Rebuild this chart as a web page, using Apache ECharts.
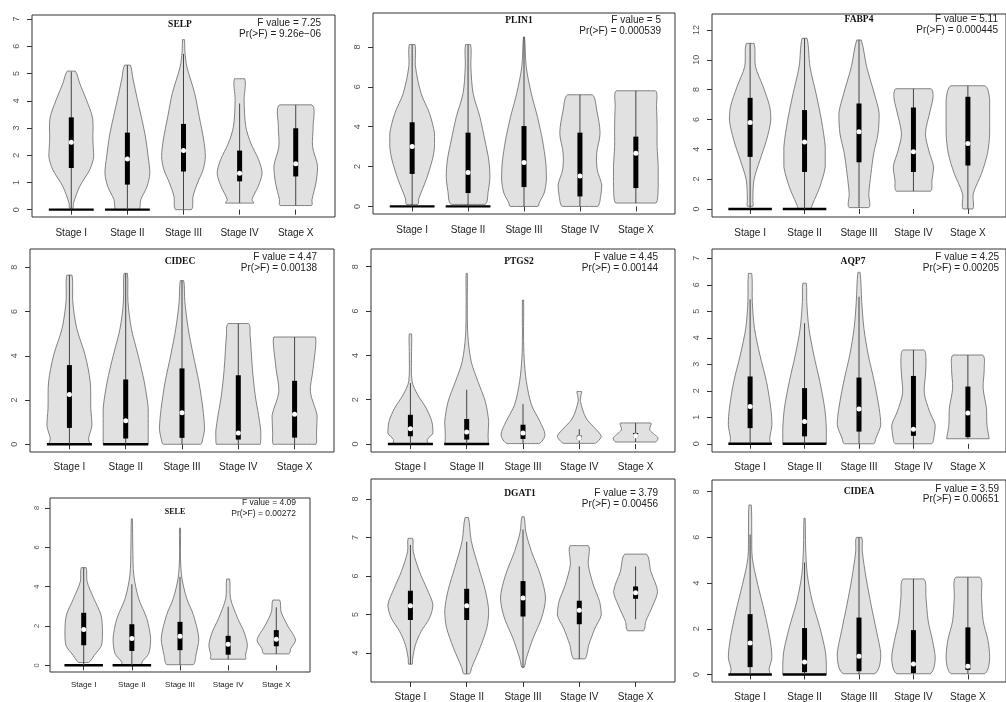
<!DOCTYPE html>
<html>
<head>
<meta charset="utf-8">
<script src="https://cdn.jsdelivr.net/npm/echarts@6/dist/echarts.min.js"></script>
<style>
  html, body { margin: 0; padding: 0; background: #fff; }
  #main { width: 1006px; height: 702px; }
</style>
</head>
<body>
<div id="main"></div>
<script>
// ---- data ---------------------------------------------------------------
const stages = ['Stage I', 'Stage II', 'Stage III', 'Stage IV', 'Stage X'];
const genes = ['SELP', 'PLIN1', 'FABP4', 'CIDEC', 'PTGS2', 'AQP7', 'SELE', 'DGAT1', 'CIDEA'];
const fValues = ['7.25', '5', '5.11', '4.47', '4.45', '4.25', '4.09', '3.79', '3.59'];
const pValues = ['9.26e\u221206', '0.000539', '0.000445', '0.00138', '0.00144', '0.00205', '0.00272', '0.00456', '0.00651'];

// y-axis tick labels per panel
const ticksSELP  = [0, 1, 2, 3, 4, 5, 6, 7];
const ticksPLIN1 = [0, 2, 4, 6, 8];
const ticksFABP4 = [0, 2, 4, 6, 8, 10, 12];
const ticksCIDEC = [0, 2, 4, 6, 8];
const ticksPTGS2 = [0, 2, 4, 6, 8];
const ticksAQP7  = [0, 1, 2, 3, 4, 5, 6, 7];
const ticksSELE  = [0, 2, 4, 6, 8];
const ticksDGAT1 = [4, 5, 6, 7, 8];
const ticksCIDEA = [0, 2, 4, 6, 8];

// box statistics per stage: [lower whisker, Q1, median, Q3, upper whisker]
const boxSELP  = [[0, 1.53, 2.48, 3.39, 5.07], [0, 0.92, 1.86, 2.83, 5.31], [0, 1.40, 2.17, 3.15, 5.72], [0.24, 1.04, 1.34, 2.17, 3.9], [0.15, 1.22, 1.69, 2.99, 3.85]];
const boxPLIN1 = [[0, 1.63, 3.0, 4.22, 8.1], [0, 0.67, 1.7, 3.7, 8.1], [0, 0.97, 2.2, 4.03, 8.5], [0, 0.5, 1.53, 3.7, 5.6], [0.17, 0.92, 2.67, 3.5, 5.8]];
const boxFABP4 = [[0, 3.49, 5.8, 7.45, 11.1], [0, 2.48, 4.48, 6.63, 11.44], [0.09, 3.13, 5.17, 7.07, 11.33], [1.19, 2.48, 3.83, 6.8, 8.06], [0, 2.91, 4.39, 7.52, 8.26]];
const boxCIDEC = [[0, 0.74, 2.25, 3.58, 7.65], [0, 0.26, 1.06, 2.93, 7.73], [0, 0.29, 1.42, 3.43, 7.4], [0, 0.21, 0.51, 3.12, 5.46], [0, 0.3, 1.36, 2.87, 4.85]];
const boxPTGS2 = [[0, 0.35, 0.69, 1.32, 2.75], [0, 0.2, 0.54, 1.13, 2.45], [0, 0.23, 0.5, 0.87, 1.8], [0.03, 0.2, 0.27, 0.38, 0.67], [0.09, 0.3, 0.37, 0.5, 0.95]];
const boxAQP7  = [[0, 0.59, 1.41, 2.54, 5.45], [0, 0.28, 0.84, 2.1, 4.55], [0, 0.46, 1.31, 2.5, 5.55], [0, 0.3, 0.55, 2.56, 3.54], [0.19, 0.25, 1.16, 2.16, 3.35]];
const boxSELE  = [[0, 1.02, 1.82, 2.67, 4.97], [0, 0.73, 1.36, 2.09, 4.12], [0.03, 0.77, 1.48, 2.21, 4.5], [0.31, 0.54, 1.07, 1.5, 2.98], [0.58, 0.97, 1.33, 1.79, 2.95]];
const boxDGAT1 = [[3.71, 4.86, 5.23, 5.62, 6.81], [3.46, 4.86, 5.23, 5.67, 6.89], [3.63, 4.95, 5.43, 5.87, 7.21], [3.85, 4.75, 5.11, 5.36, 6.25], [4.88, 5.41, 5.57, 5.73, 6.25]];
const boxCIDEA = [[0, 0.32, 1.38, 2.64, 6.12], [0, 0.1, 0.54, 2.03, 4.9], [0, 0.14, 0.8, 2.49, 6.0], [0.03, 0.06, 0.46, 1.94, 4.18], [0.03, 0.2, 0.36, 2.06, 4.26]];

// violin outlines per stage, bottom to top: [expression value, half width in stage units]
const shapeSELP = [
  [[0.05, 0.03], [0.24, 0.04], [0.85, 0.15], [1.47, 0.33], [1.95, 0.40], [2.56, 0.385], [3.36, 0.38], [4.03, 0.27], [4.64, 0.15], [5.09, 0.07]],
  [[0, 0.2], [0.37, 0.24], [0.85, 0.35], [1.34, 0.40], [1.95, 0.37], [2.81, 0.31], [4.03, 0.18], [4.8, 0.1], [5.31, 0.05]],
  [[0, 0.14], [0.49, 0.17], [0.98, 0.25], [1.47, 0.35], [1.95, 0.39], [2.56, 0.36], [3.42, 0.28], [4.27, 0.2], [5.25, 0.06], [5.8, 0.025], [6.25, 0.015]],
  [[0.24, 0.25], [0.37, 0.22], [0.85, 0.33], [1.34, 0.40], [1.83, 0.34], [2.44, 0.2], [3.05, 0.11], [4.03, 0.08], [4.81, 0.09]],
  [[0.15, 0.28], [0.37, 0.29], [0.98, 0.36], [1.59, 0.39], [2.32, 0.3], [3.05, 0.31], [3.85, 0.29]]
];
const shapePLIN1 = [
  [[0.1, 0.1], [0.4, 0.12], [1.33, 0.25], [2.33, 0.36], [3.0, 0.40], [3.67, 0.40], [4.67, 0.31], [5.67, 0.16], [7.0, 0.06], [8.12, 0.05]],
  [[0.1, 0.3], [0.75, 0.36], [1.5, 0.39], [2.33, 0.37], [3.33, 0.3], [4.5, 0.21], [5.67, 0.09], [7.0, 0.05], [8.12, 0.045]],
  [[0, 0.25], [0.17, 0.27], [0.67, 0.36], [1.33, 0.40], [2.17, 0.39], [3.33, 0.33], [4.5, 0.24], [5.67, 0.13], [7.0, 0.04], [8.5, 0.01]],
  [[0, 0.31], [0.5, 0.37], [1.08, 0.39], [1.83, 0.31], [2.67, 0.3], [3.67, 0.36], [4.83, 0.3], [5.6, 0.22]],
  [[0.17, 0.36], [1.0, 0.4], [2.0, 0.4], [3.0, 0.38], [4.0, 0.38], [5.0, 0.37], [5.8, 0.35]]
];
const shapeFABP4 = [
  [[0.18, 0.05], [0.58, 0.05], [1.93, 0.07], [3.27, 0.18], [4.6, 0.3], [5.95, 0.38], [6.85, 0.36], [8.2, 0.24], [9.54, 0.1], [11.1, 0.07]],
  [[0, 0.1], [0.36, 0.15], [1.48, 0.28], [2.82, 0.38], [4.16, 0.38], [5.95, 0.31], [7.75, 0.21], [9.54, 0.1], [11.44, 0.045]],
  [[0.09, 0.18], [1.03, 0.18], [2.37, 0.22], [3.72, 0.27], [5.06, 0.35], [6.4, 0.37], [7.75, 0.28], [9.54, 0.14], [11.33, 0.04]],
  [[1.19, 0.31], [1.93, 0.34], [2.82, 0.37], [3.94, 0.28], [5.06, 0.22], [6.63, 0.31], [7.52, 0.36], [8.06, 0.32]],
  [[0, 0.09], [1.03, 0.1], [2.37, 0.25], [3.72, 0.36], [5.06, 0.4], [7.3, 0.4], [8.26, 0.31]]
];
const shapeCIDEC = [
  [[0, 0.35], [0.26, 0.34], [0.86, 0.4], [1.62, 0.38], [2.82, 0.37], [4.03, 0.28], [5.24, 0.13], [6.45, 0.06], [7.65, 0.045]],
  [[0, 0.4], [0.71, 0.4], [1.62, 0.4], [2.82, 0.33], [4.03, 0.22], [5.24, 0.1], [6.45, 0.04], [7.73, 0.03]],
  [[0, 0.33], [0.26, 0.37], [0.71, 0.4], [1.62, 0.37], [2.82, 0.3], [4.03, 0.2], [5.24, 0.11], [6.45, 0.05], [7.4, 0.03]],
  [[0, 0.39], [0.56, 0.4], [1.31, 0.36], [2.22, 0.3], [3.43, 0.25], [4.94, 0.21], [5.46, 0.18]],
  [[0, 0.38], [0.56, 0.39], [1.31, 0.4], [2.37, 0.28], [3.43, 0.33], [4.85, 0.37]]
];
const shapePTGS2 = [
  [[0, 0.3], [0.2, 0.3], [0.5, 0.4], [1.02, 0.38], [1.62, 0.28], [2.22, 0.13], [2.82, 0.03], [4.17, 0.02], [4.97, 0.02]],
  [[0, 0.38], [0.42, 0.38], [1.02, 0.39], [1.92, 0.33], [2.82, 0.2], [3.72, 0.08], [4.92, 0.02], [6.43, 0.01], [7.7, 0.01]],
  [[0.02, 0.28], [0.42, 0.39], [1.02, 0.3], [1.77, 0.15], [2.82, 0.06], [3.87, 0.02], [4.92, 0.01], [6.5, 0.01]],
  [[0.03, 0.27], [0.12, 0.33], [0.35, 0.39], [0.65, 0.3], [1.17, 0.12], [1.92, 0.02], [2.2, 0.03], [2.37, 0.04]],
  [[0.09, 0.35], [0.27, 0.4], [0.42, 0.34], [0.65, 0.25], [0.95, 0.27]]
];
const shapeAQP7 = [
  [[0, 0.36], [0.21, 0.36], [0.72, 0.4], [1.34, 0.38], [2.35, 0.3], [3.35, 0.18], [4.36, 0.08], [5.36, 0.04], [6.43, 0.03]],
  [[0, 0.4], [0.59, 0.4], [1.34, 0.37], [2.35, 0.28], [3.35, 0.17], [4.36, 0.08], [5.36, 0.04], [6.06, 0.03]],
  [[0, 0.27], [0.21, 0.31], [0.72, 0.4], [1.34, 0.37], [2.35, 0.28], [3.35, 0.17], [4.36, 0.09], [5.36, 0.05], [6.47, 0.02]],
  [[0, 0.33], [0.3, 0.38], [0.7, 0.4], [1.2, 0.3], [1.9, 0.2], [2.6, 0.22], [3.2, 0.23], [3.54, 0.19]],
  [[0.19, 0.39], [0.72, 0.35], [1.34, 0.34], [2.1, 0.28], [2.85, 0.3], [3.35, 0.27]]
];
const shapeSELE = [
  [[0.14, 0.1], [0.51, 0.22], [1.02, 0.37], [1.7, 0.39], [2.55, 0.36], [3.4, 0.21], [4.26, 0.07], [4.97, 0.05]],
  [[0, 0.2], [0.17, 0.21], [0.6, 0.35], [1.36, 0.39], [2.38, 0.31], [3.4, 0.14], [4.6, 0.04], [5.96, 0.02], [7.45, 0.01]],
  [[0.03, 0.27], [0.51, 0.33], [1.36, 0.39], [2.55, 0.28], [3.4, 0.14], [4.43, 0.04], [5.45, 0.01], [6.98, 0.01]],
  [[0.31, 0.36], [0.51, 0.36], [1.02, 0.4], [1.7, 0.33], [2.38, 0.2], [3.4, 0.05], [4.39, 0.03]],
  [[0.58, 0.26], [0.85, 0.3], [1.28, 0.4], [2.04, 0.23], [2.72, 0.1], [3.32, 0.07]]
];
const shapeDGAT1 = [
  [[3.71, 0.03], [3.87, 0.04], [4.22, 0.09], [4.56, 0.19], [4.91, 0.34], [5.25, 0.4], [5.68, 0.29], [6.12, 0.16], [6.64, 0.05], [6.98, 0.04]],
  [[3.46, 0.05], [3.63, 0.09], [4.15, 0.24], [4.67, 0.36], [5.1, 0.39], [5.63, 0.33], [6.23, 0.21], [6.92, 0.08], [7.52, 0.03]],
  [[3.63, 0.02], [3.87, 0.06], [4.39, 0.18], [4.91, 0.33], [5.43, 0.4], [6.03, 0.31], [6.64, 0.15], [7.15, 0.05], [7.54, 0.02]],
  [[3.85, 0.1], [4.22, 0.17], [4.65, 0.28], [4.99, 0.39], [5.34, 0.36], [5.77, 0.25], [6.29, 0.16], [6.79, 0.16]],
  [[4.58, 0.14], [4.82, 0.18], [5.25, 0.31], [5.6, 0.39], [6.12, 0.27], [6.57, 0.19]]
];
const shapeCIDEA = [
  [[0, 0.35], [0.25, 0.35], [0.75, 0.4], [1.62, 0.36], [2.78, 0.26], [3.94, 0.14], [5.1, 0.04], [6.26, 0.03], [7.42, 0.02]],
  [[0, 0.4], [0.46, 0.4], [1.04, 0.38], [2.06, 0.28], [3.22, 0.14], [4.38, 0.05], [5.54, 0.02], [6.84, 0.01]],
  [[0.03, 0.28], [0.32, 0.37], [0.9, 0.4], [1.91, 0.32], [3.07, 0.22], [4.23, 0.13], [5.39, 0.06], [6.0, 0.05]],
  [[0.03, 0.3], [0.25, 0.37], [0.75, 0.4], [1.48, 0.35], [2.35, 0.27], [3.36, 0.23], [4.18, 0.19]],
  [[0.03, 0.3], [0.25, 0.37], [0.75, 0.4], [1.48, 0.37], [2.35, 0.28], [3.36, 0.25], [4.26, 0.22]]
];

// stages with a pile of zero values (drawn as a bar at 0)
const zeroSELP  = [1, 1, 0, 0, 0];
const zeroPLIN1 = [1, 1, 0, 0, 0];
const zeroFABP4 = [1, 1, 0, 0, 0];
const zeroCIDEC = [1, 1, 0, 0, 0];
const zeroPTGS2 = [1, 1, 0, 0, 0];
const zeroAQP7  = [1, 1, 0, 0, 0];
const zeroSELE  = [1, 1, 0, 0, 0];
const zeroDGAT1 = [0, 0, 0, 0, 0];
const zeroCIDEA = [1, 1, 0, 0, 0];

const ticks  = [ticksSELP, ticksPLIN1, ticksFABP4, ticksCIDEC, ticksPTGS2, ticksAQP7, ticksSELE, ticksDGAT1, ticksCIDEA];
const boxes  = [boxSELP, boxPLIN1, boxFABP4, boxCIDEC, boxPTGS2, boxAQP7, boxSELE, boxDGAT1, boxCIDEA];
const shapes = [shapeSELP, shapePLIN1, shapeFABP4, shapeCIDEC, shapePTGS2, shapeAQP7, shapeSELE, shapeDGAT1, shapeCIDEA];
const zeros  = [zeroSELP, zeroPLIN1, zeroFABP4, zeroCIDEC, zeroPTGS2, zeroAQP7, zeroSELE, zeroDGAT1, zeroCIDEA];

// ---- layout -------------------------------------------------------------
// plot frames: left, top, width, height, y range
const frames = [
  { left: 32,  top: 15,  width: 303, height: 202, yMin: -0.27, yMax: 7.15 },
  { left: 373, top: 13,  width: 302, height: 201, yMin: -0.38, yMax: 9.7 },
  { left: 712, top: 14,  width: 306, height: 203, yMin: -0.54, yMax: 13.07 },
  { left: 30,  top: 249, width: 304, height: 203, yMin: -0.35, yMax: 8.83 },
  { left: 371, top: 249, width: 304, height: 203, yMin: -0.36, yMax: 8.8 },
  { left: 712, top: 249, width: 304, height: 203, yMin: -0.31, yMax: 7.35 },
  { left: 50,  top: 498, width: 260, height: 174, yMin: -0.34, yMax: 8.51 },
  { left: 371, top: 479, width: 304, height: 203, yMin: 3.25,  yMax: 8.52 },
  { left: 712, top: 480, width: 304, height: 203, yMin: -0.33, yMax: 8.51 }
];
// text anchors: gene name centre, right edge of the statistics, first and second line
const notes = [
  { tx: 180, ty: 25,  rx: 321, y1: 23,  y2: 34 },
  { tx: 519, ty: 21,  rx: 661, y1: 20,  y2: 31.5 },
  { tx: 859, ty: 20,  rx: 998, y1: 19,  y2: 30 },
  { tx: 180, ty: 262, rx: 317, y1: 257.5, y2: 268.5 },
  { tx: 519, ty: 262, rx: 658, y1: 257.5, y2: 268.5 },
  { tx: 853, ty: 262, rx: 999, y1: 257.5, y2: 268 },
  { tx: 175, ty: 511.5, rx: 296, y1: 503, y2: 514 },
  { tx: 520, ty: 494, rx: 658, y1: 493, y2: 504 },
  { tx: 859, ty: 491.5, rx: 999, y1: 489, y2: 499.5 }
];

const SANS = "'Liberation Sans', Arial, sans-serif";
const SERIF = "'Liberation Serif', 'Times New Roman', serif";

function violinRenderer(shapeSet, zeroSet) {
  return function (params, api) {
    const j = params.dataIndex;
    const pos = api.value(0);
    const lo = api.value(1), q1 = api.value(2), med = api.value(3), q3 = api.value(4), hi = api.value(5);
    const prof = shapeSet[j];
    const leftSide = prof.map(p => api.coord([pos - p[1], p[0]]));
    const rightSide = prof.slice().reverse().map(p => api.coord([pos + p[1], p[0]]));
    const pts = leftSide.concat(rightSide);
    // keep the smoothed outline inside the outline's own bounding box
    const bbox = [[Infinity, Infinity], [-Infinity, -Infinity]];
    pts.forEach(q => {
      bbox[0][0] = Math.min(bbox[0][0], q[0]); bbox[0][1] = Math.min(bbox[0][1], q[1]);
      bbox[1][0] = Math.max(bbox[1][0], q[0]); bbox[1][1] = Math.max(bbox[1][1], q[1]);
    });
    const children = [{
      type: 'polygon',
      shape: { points: pts, smooth: 0.3, smoothConstraint: bbox },
      style: { fill: '#e1e1e1', stroke: '#666', lineWidth: 0.8 }
    }];
    if (zeroSet[j]) {
      const a = api.coord([pos - 0.4, 0]), b = api.coord([pos + 0.4, 0]);
      children.push({ type: 'line', shape: { x1: a[0], y1: a[1], x2: b[0], y2: b[1] },
        style: { stroke: '#000', lineWidth: 2.4 } });
    }
    const pLo = api.coord([pos, lo]), pHi = api.coord([pos, hi]);
    children.push({ type: 'line', shape: { x1: pLo[0], y1: pLo[1], x2: pHi[0], y2: pHi[1] },
      style: { stroke: '#444', lineWidth: 1 } });
    const p1 = api.coord([pos, q1]), p3 = api.coord([pos, q3]);
    children.push({ type: 'rect', shape: { x: p1[0] - 2.5, y: p3[1], width: 5, height: p1[1] - p3[1] },
      style: { fill: '#000' } });
    const pm = api.coord([pos, med]);
    children.push({ type: 'circle', shape: { cx: pm[0], cy: pm[1], r: 2.5 }, style: { fill: '#fff' } });
    return { type: 'group', children: children };
  };
}

const grid = [], xAxis = [], yAxis = [], series = [], graphic = [];
frames.forEach((f, i) => {
  const small = i === 6;
  grid.push({ left: f.left, top: f.top, width: f.width, height: f.height, show: true,
    borderColor: '#333', borderWidth: 1, backgroundColor: 'transparent', containLabel: false });
  xAxis.push({
    type: 'value', gridIndex: i, min: 0.3, max: 5.7,
    axisLine: { show: false }, splitLine: { show: false },
    axisTick: { show: true, customValues: [1, 2, 3, 4, 5], length: 5, lineStyle: { color: '#333' } },
    axisLabel: { customValues: [1, 2, 3, 4, 5], formatter: v => stages[Math.round(v) - 1],
      color: '#222', fontFamily: SANS, fontSize: small ? 8 : 10, margin: small ? 9 : (i < 3 ? 11 : 10) }
  });
  yAxis.push({
    type: 'value', gridIndex: i, min: f.yMin, max: f.yMax,
    axisLine: { show: false }, splitLine: { show: false },
    axisTick: { show: true, customValues: ticks[i], length: 5, lineStyle: { color: '#333' } },
    axisLabel: { customValues: ticks[i], rotate: 90, color: '#555', fontFamily: SANS,
      fontSize: small ? 7.5 : 9, margin: small ? 9 : 11 }
  });
  series.push({
    type: 'custom', xAxisIndex: i, yAxisIndex: i,
    renderItem: violinRenderer(shapes[i], zeros[i]),
    encode: { x: 0, y: [1, 2, 3, 4, 5] },
    data: boxes[i].map((b, j) => [j + 1].concat(b)),
    silent: true
  });
  const n = notes[i];
  graphic.push({ type: 'text', x: n.tx, y: n.ty, silent: true,
    style: { text: genes[i], fontFamily: SERIF, fontWeight: 'bold', fontSize: small ? 8 : 9.5,
      fill: '#111', align: 'center', verticalAlign: 'middle' } });
  graphic.push({ type: 'text', x: n.rx, y: n.y1, silent: true,
    style: { text: 'F value = ' + fValues[i], fontFamily: SANS, fontSize: small ? 8.5 : 10,
      fill: '#222', align: 'right', verticalAlign: 'middle' } });
  graphic.push({ type: 'text', x: n.rx, y: n.y2, silent: true,
    style: { text: 'Pr(>F) = ' + pValues[i], fontFamily: SANS, fontSize: small ? 8.5 : 10,
      fill: '#222', align: 'right', verticalAlign: 'middle' } });
});

const chart = echarts.init(document.getElementById('main'), null, { renderer: 'canvas' });
chart.setOption({
  animation: false,
  backgroundColor: '#fff',
  grid: grid, xAxis: xAxis, yAxis: yAxis, series: series, graphic: graphic
});
</script>
</body>
</html>
